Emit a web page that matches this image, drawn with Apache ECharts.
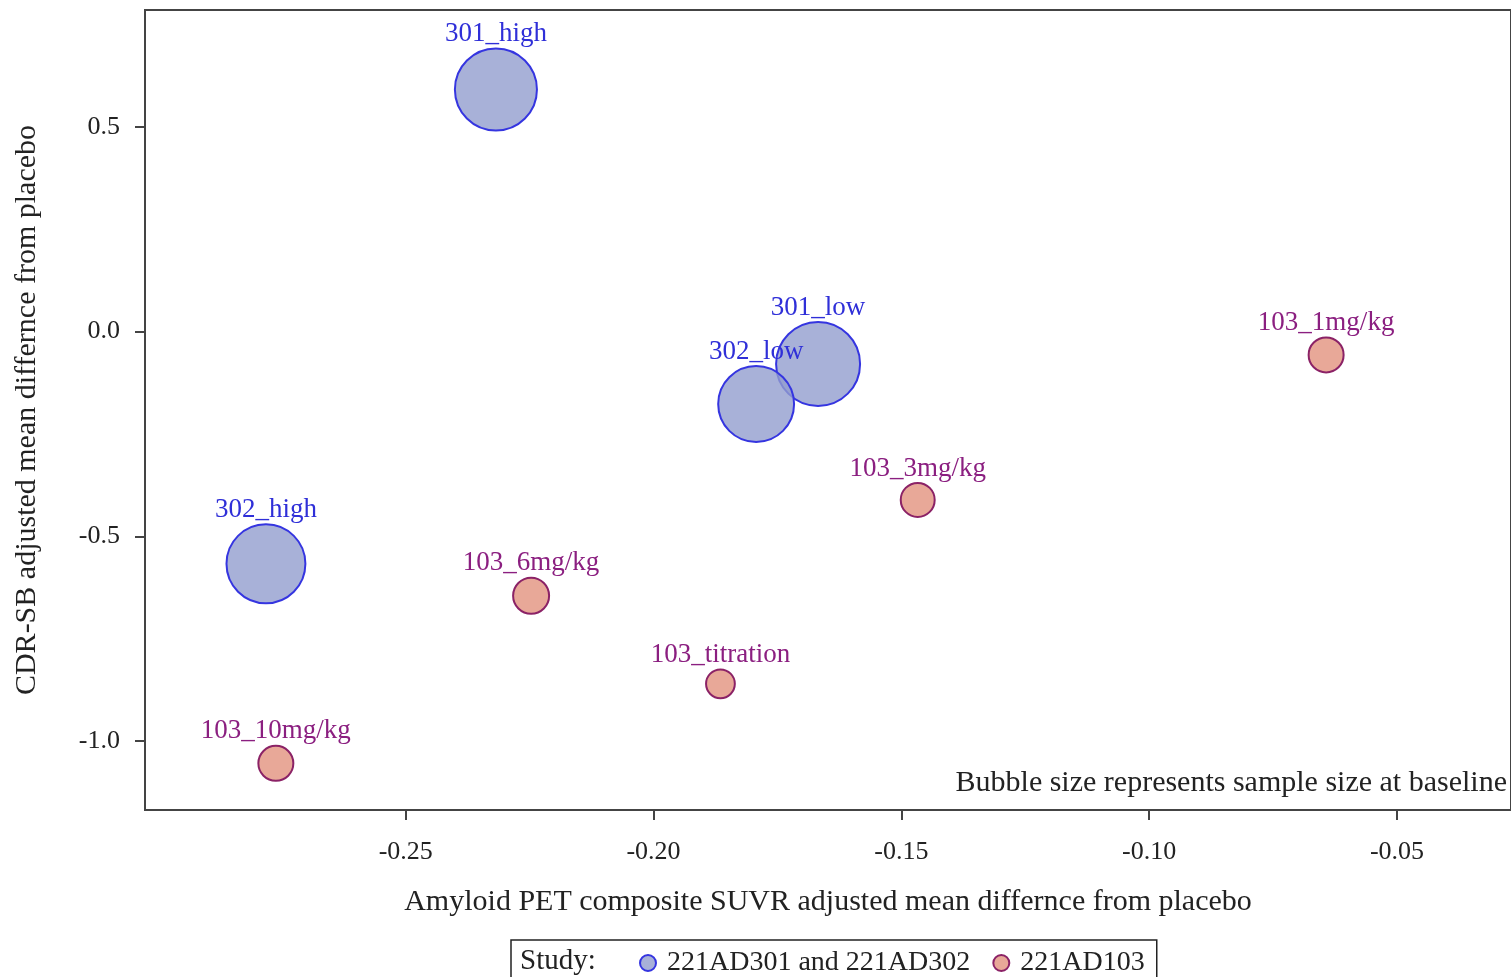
<!DOCTYPE html>
<html>
<head>
<meta charset="utf-8">
<script src="https://cdn.jsdelivr.net/npm/echarts@6/dist/echarts.min.js"></script>
<style>
  html, body { margin: 0; padding: 0; background: #fff; }
  #chart { width: 1511px; height: 977px; }
</style>
</head>
<body>
<div id="chart"></div>
<script>
// Phase 3 arms (221AD301 / 221AD302)
const phase3Names = ['301_high', '301_low', '302_low', '302_high'];
const phase3Suvr  = [-0.2318, -0.1668, -0.1793, -0.2782];
const phase3Cdr   = [0.591, -0.079, -0.177, -0.567];
const phase3N     = [187, 196, 160, 173];

// Phase 1b arms (221AD103)
const phase1Names = ['103_1mg/kg', '103_3mg/kg', '103_6mg/kg', '103_10mg/kg', '103_titration'];
const phase1Suvr  = [-0.0643, -0.1467, -0.2247, -0.2762, -0.1865];
const phase1Cdr   = [-0.057, -0.411, -0.645, -1.054, -0.860];
const phase1N     = [34, 32, 36, 34, 23];

// Axis ticks
const xTicks = [-0.25, -0.20, -0.15, -0.10, -0.05];
const yTicks = [-1.0, -0.5, 0.0, 0.5];

const serif = '"Liberation Serif", "Times New Roman", serif';

function toPoints(names, xs, ys, ns) {
  return names.map((n, i) => ({ name: n, value: [xs[i], ys[i], ns[i]] }));
}

// bubble area proportional to baseline sample size
const bubbleSize = v => 6 * Math.sqrt(v[2]);

const chart = echarts.init(document.getElementById('chart'), null, { renderer: 'canvas' });

chart.setOption({
  backgroundColor: '#ffffff',
  animation: false,
  grid: {
    left: 145, top: 10, right: -5, bottom: 167,
    show: true, borderColor: '#444', borderWidth: 2, backgroundColor: 'transparent'
  },
  xAxis: {
    type: 'value',
    min: -0.3026, max: -0.027,
    name: 'Amyloid PET composite SUVR adjusted mean differnce from placebo',
    nameLocation: 'middle', nameGap: 77,
    nameTextStyle: { fontFamily: serif, fontSize: 30, color: '#222' },
    axisLine: { show: true, onZero: false, lineStyle: { color: '#444', width: 2 } },
    axisTick: { show: true, length: 10, lineStyle: { color: '#444', width: 2 }, customValues: xTicks },
    axisLabel: {
      fontFamily: serif, fontSize: 26, color: '#222', margin: 29,
      customValues: xTicks, formatter: v => v.toFixed(2)
    },
    splitLine: { show: false }
  },
  yAxis: {
    type: 'value',
    min: -1.168, max: 0.785,
    name: 'CDR-SB adjusted mean differnce from placebo',
    nameLocation: 'middle', nameGap: 103,
    nameTextStyle: { fontFamily: serif, fontSize: 30, color: '#222' },
    axisLine: { show: true, onZero: false, lineStyle: { color: '#444', width: 2 } },
    axisTick: { show: true, length: 10, lineStyle: { color: '#444', width: 2 }, customValues: yTicks },
    axisLabel: {
      fontFamily: serif, fontSize: 26, color: '#222', margin: 25,
      customValues: yTicks, formatter: v => v.toFixed(1)
    },
    splitLine: { show: false }
  },
  legend: {
    left: 511, top: 940,
    padding: [8, 12, 12, 128],
    borderColor: '#222', borderWidth: 1.5,
    itemWidth: 16, itemHeight: 16, itemGap: 22,
    icon: 'circle',
    textStyle: { fontFamily: serif, fontSize: 28, color: '#222', padding: [0, 0, 0, 6], lineHeight: 30 },
    data: ['221AD301 and 221AD302', '221AD103']
  },
  graphic: [
    {
      type: 'text', left: 520, top: 947, z: 100,
      style: { text: 'Study:', font: '29px ' + serif, fill: '#222' }
    },
    {
      type: 'text', right: 4, top: 768, z: 100,
      style: { text: 'Bubble size represents sample size at baseline', font: '30px ' + serif, fill: '#222' }
    }
  ],
  series: [
    {
      name: '221AD301 and 221AD302',
      type: 'scatter',
      data: toPoints(phase3Names, phase3Suvr, phase3Cdr, phase3N),
      symbolSize: bubbleSize,
      itemStyle: { color: 'rgba(146,157,206,0.8)', borderColor: '#3535e0', borderWidth: 2, opacity: 1 },
      label: {
        show: true, position: 'top', distance: 0,
        formatter: p => p.name,
        fontFamily: serif, fontSize: 27, color: '#2f2fd8'
      },
      emphasis: { disabled: true }
    },
    {
      name: '221AD103',
      type: 'scatter',
      data: toPoints(phase1Names, phase1Suvr, phase1Cdr, phase1N),
      symbolSize: bubbleSize,
      itemStyle: { color: '#e8a898', borderColor: '#8b2266', borderWidth: 2, opacity: 1 },
      label: {
        show: true, position: 'top', distance: 0,
        formatter: p => p.name,
        fontFamily: serif, fontSize: 27, color: '#8b1f80'
      },
      emphasis: { disabled: true }
    }
  ]
});
</script>
</body>
</html>
